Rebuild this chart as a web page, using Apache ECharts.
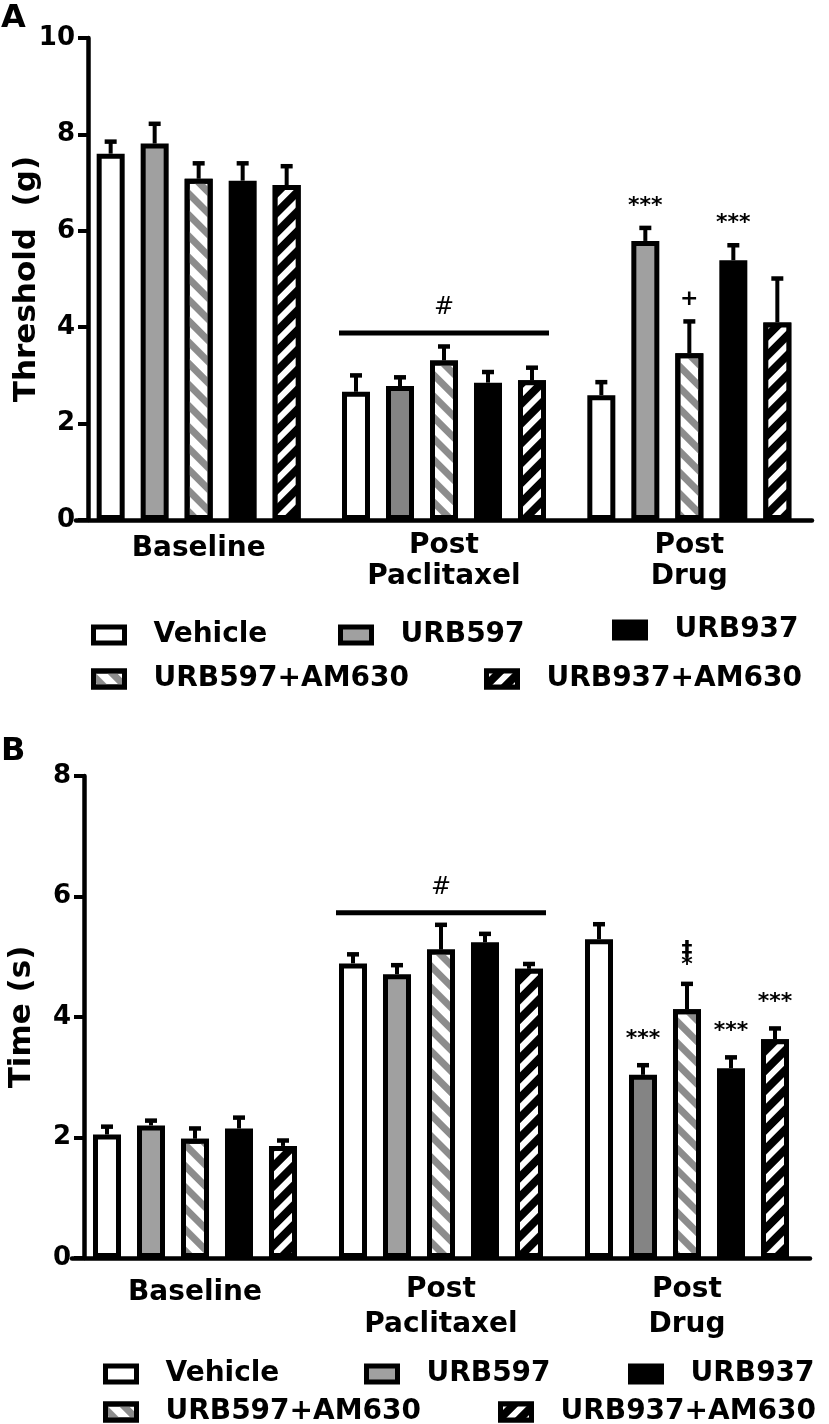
<!DOCTYPE html>
<html><head><meta charset="utf-8">
<script src="https://cdn.jsdelivr.net/npm/echarts@6/dist/echarts.min.js"></script>
<style>html,body{margin:0;padding:0;background:#fff}#c{width:829px;height:1424px}</style>
</head><body><div id="c"></div>
<script>
// ---------- DATA ----------
const categories = ['Baseline', 'Post\nPaclitaxel', 'Post\nDrug'];
const groupNames = ['Vehicle', 'URB597', 'URB597+AM630', 'URB937', 'URB937+AM630'];
const ticksA = [0, 2, 4, 6, 8, 10];
const ticksB = [0, 2, 4, 6, 8];

// Panel A: Threshold (g), mean per category
const A_vehicle   = [7.60, 2.66, 2.59];
const A_urb597    = [7.81, 2.78, 5.79];
const A_urb597am  = [7.08, 3.31, 3.46];
const A_urb937    = [7.04, 2.85, 5.39];
const A_urb937am  = [6.95, 2.90, 4.10];
// Panel A: SEM
const A_sem_vehicle  = [0.25, 0.34, 0.27];
const A_sem_urb597   = [0.41, 0.18, 0.27];
const A_sem_urb597am = [0.32, 0.29, 0.66];
const A_sem_urb937   = [0.36, 0.22, 0.31];
const A_sem_urb937am = [0.39, 0.26, 0.91];
// Panel A: significance marks
const A_mark_vehicle  = ['', '', ''];
const A_mark_urb597   = ['', '', '***'];
const A_mark_urb597am = ['', '', '+'];
const A_mark_urb937   = ['', '', '***'];
const A_mark_urb937am = ['', '', ''];
const A_hashLevel = 3.88;

// Panel B: Time (s), mean per category
const B_vehicle   = [2.05, 4.89, 5.29];
const B_urb597    = [2.20, 4.71, 3.04];
const B_urb597am  = [1.98, 5.12, 4.13];
const B_urb937    = [2.15, 5.24, 3.15];
const B_urb937am  = [1.86, 4.80, 3.63];
// Panel B: SEM
const B_sem_vehicle  = [0.13, 0.15, 0.25];
const B_sem_urb597   = [0.08, 0.15, 0.16];
const B_sem_urb597am = [0.17, 0.41, 0.42];
const B_sem_urb937   = [0.18, 0.14, 0.18];
const B_sem_urb937am = [0.09, 0.08, 0.18];
// Panel B: significance marks
const B_mark_vehicle  = ['', '', ''];
const B_mark_urb597   = ['', '', '***'];
const B_mark_urb597am = ['', '', '\u2021\n*'];
const B_mark_urb937   = ['', '', '***'];
const B_mark_urb937am = ['', '', '***'];
const B_hashLevel = 5.73;

// ---------- STYLE ----------
const FONT = '"DejaVu Sans"';
const BAR_W = 28, BAR_STEP = 44, CAP = 6;
const shadeA = ['#a0a0a0', '#848484', '#a0a0a0'];
const shadeB = ['#a0a0a0', '#a0a0a0', '#848484'];
const hatchGray = { color: '#8c8c8c', dashArrayX: [1, 0], dashArrayY: [7, 8], rotation: Math.PI / 4, symbolSize: 1 };
const hatchBlack = { color: '#ffffff', dashArrayX: [1, 0], dashArrayY: [6, 8], rotation: -Math.PI / 4, symbolSize: 1 };

function baseStyles(legendShade) {
  return [
    { color: '#ffffff' },
    { color: legendShade },
    { color: '#ffffff', decal: hatchGray },
    { color: '#000000' },
    { color: '#000000', decal: hatchBlack }
  ];
}

function buildPanel(idx, means, sems, marks, shades, legendShade, hashLevel, markGap) {
  const styles = baseStyles(legendShade);
  const series = [];
  means.forEach(function (vals, s) {
    series.push({
      type: 'bar', name: groupNames[s], xAxisIndex: idx, yAxisIndex: idx,
      barWidth: BAR_W, barGap: ((BAR_STEP - BAR_W) / BAR_W * 100).toFixed(2) + '%',
      itemStyle: Object.assign({ borderColor: '#000', borderWidth: 5 }, styles[s]),
      emphasis: { disabled: true },
      data: vals.map(function (v, c) {
        if (s === 1) return { value: v, itemStyle: { color: shades[c] } };
        return v;
      }),
      z: 2
    });
  });
  const errData = [];
  const markLookup = [];
  means.forEach(function (vals, s) {
    vals.forEach(function (v, c) {
      errData.push([c, s, v, sems[s][c]]);
      markLookup.push(marks[s][c]);
    });
  });
  series.push({
    type: 'custom', xAxisIndex: idx, yAxisIndex: idx, z: 5, silent: true,
    encode: { x: 0, y: 2 },
    data: errData,
    renderItem: function (params, api) {
      const c = api.value(0), s = api.value(1), m = api.value(2), e = api.value(3);
      const p0 = api.coord([c, m]);
      const p1 = api.coord([c, m + e]);
      const x = p0[0] + (s - 2) * BAR_STEP;
      const children = [
        { type: 'line', shape: { x1: x, y1: p0[1], x2: x, y2: p1[1] }, style: { stroke: '#000', lineWidth: 4 } },
        { type: 'line', shape: { x1: x - CAP, y1: p1[1], x2: x + CAP, y2: p1[1] }, style: { stroke: '#000', lineWidth: 4.5 } }
      ];
      const t = markLookup[params.dataIndex];
      if (t) {
        children.push({ type: 'text', style: {
          text: t, x: x, y: p1[1] - markGap, align: 'center', verticalAlign: 'middle',
          font: 'bold 22px ' + FONT, fill: '#000', lineHeight: 15 } });
      }
      return { type: 'group', children: children };
    }
  });
  series.push({
    type: 'custom', xAxisIndex: idx, yAxisIndex: idx, z: 5, silent: true,
    encode: { x: 0, y: 1 },
    data: [[1, hashLevel]],
    renderItem: function (params, api) {
      const p = api.coord([api.value(0), api.value(1)]);
      const half = 2 * BAR_STEP + BAR_W / 2 + 3;
      return { type: 'group', children: [
        { type: 'line', shape: { x1: p[0] - half, y1: p[1], x2: p[0] + half, y2: p[1] }, style: { stroke: '#000', lineWidth: 5 } },
        { type: 'text', style: { text: '#', x: p[0], y: p[1] - 25, align: 'center', verticalAlign: 'middle',
          font: 'normal 24px ' + FONT, fill: '#000' } }
      ] };
    }
  });
  return series;
}

const seriesA = buildPanel(0,
  [A_vehicle, A_urb597, A_urb597am, A_urb937, A_urb937am],
  [A_sem_vehicle, A_sem_urb597, A_sem_urb597am, A_sem_urb937, A_sem_urb937am],
  [A_mark_vehicle, A_mark_urb597, A_mark_urb597am, A_mark_urb937, A_mark_urb937am],
  shadeA, '#a0a0a0', A_hashLevel, 22);
const seriesB = buildPanel(1,
  [B_vehicle, B_urb597, B_urb597am, B_urb937, B_urb937am],
  [B_sem_vehicle, B_sem_urb597, B_sem_urb597am, B_sem_urb937, B_sem_urb937am],
  [B_mark_vehicle, B_mark_urb597, B_mark_urb597am, B_mark_urb937, B_mark_urb937am],
  shadeB, '#888888', B_hashLevel, 26);

function xAxisCfg(idx, margin, lineH) {
  return {
    type: 'category', gridIndex: idx, data: categories,
    axisTick: { show: false },
    axisLine: { show: true, lineStyle: { color: '#000', width: 4.5 } },
    axisLabel: {
      interval: 0, margin: margin, color: '#000', fontFamily: FONT, fontWeight: 'bold', fontSize: 28, lineHeight: lineH,
      formatter: function (v) { return v.indexOf('\n') < 0 ? '{s|' + v + '}' : v; },
      rich: { s: { padding: [7, 0, 0, 0], color: '#000', fontFamily: FONT, fontWeight: 'bold', fontSize: 28, lineHeight: lineH } }
    },
    splitLine: { show: false }
  };
}
function yAxisCfg(idx, ticks, name, nameGap) {
  return {
    type: 'value', gridIndex: idx, min: ticks[0], max: ticks[ticks.length - 1], interval: ticks[1] - ticks[0],
    offset: -12,
    axisLine: { show: true, lineStyle: { color: '#000', width: 4.5 } },
    axisTick: { show: true, length: 10, lineStyle: { color: '#000', width: 4 } },
    splitLine: { show: false },
    axisLabel: { margin: 13, color: '#000', fontFamily: FONT, fontWeight: 'bold', fontSize: 26 },
    name: name, nameLocation: 'middle', nameGap: nameGap, nameMoveOverlap: false,
    nameTextStyle: { color: '#000', fontFamily: FONT, fontWeight: 'bold', fontSize: 31 }
  };
}

// legend placement (layout only)
const legendLayoutA = [
  { name: 'Vehicle', left: 91, top: 621 },
  { name: 'URB597', left: 338, top: 621 },
  { name: 'URB937', left: 612, top: 616 },
  { name: 'URB597+AM630', left: 91, top: 665 },
  { name: 'URB937+AM630', left: 484, top: 665 }
];
const legendLayoutB = [
  { name: 'Vehicle', left: 103, top: 1360 },
  { name: 'URB597', left: 364, top: 1360 },
  { name: 'URB937', left: 628, top: 1360 },
  { name: 'URB597+AM630', left: 103, top: 1398 },
  { name: 'URB937+AM630', left: 498, top: 1398 }
];
function legendCfg(item) {
  return {
    data: [item.name], left: item.left, top: item.top, padding: 0,
    icon: 'rect', itemWidth: 31, itemHeight: 16, selectedMode: false,
    itemStyle: { borderColor: '#000', borderWidth: 5 },
    formatter: function (n) { return '{sp|}' + n; },
    textStyle: { color: '#000', fontFamily: FONT, fontWeight: 'bold', fontSize: 28,
      rich: { sp: { width: 24 } } }
  };
}

const chart = echarts.init(document.getElementById('c'), null, { renderer: 'canvas' });
const legends = legendLayoutA.map(legendCfg).concat(legendLayoutB.map(legendCfg));
chart.setOption({
  backgroundColor: '#fff',
  animation: false,
  grid: [
    { left: 76, top: 38, width: 736, height: 482, outerBoundsMode: 'none', containLabel: false },
    { left: 72, top: 776, width: 738, height: 482, outerBoundsMode: 'none', containLabel: false }
  ],
  xAxis: [xAxisCfg(0, 10, 31), xAxisCfg(1, 14, 35)],
  yAxis: [yAxisCfg(0, ticksA, 'Threshold  (g)', 46), yAxisCfg(1, ticksB, 'Time (s)', 47)],
  legend: legends,
  graphic: [
    { type: 'text', left: 1, top: 3, style: { text: 'A', font: 'bold 32px ' + FONT, fill: '#000' } },
    { type: 'text', left: 1, top: 736, style: { text: 'B', font: 'bold 32px ' + FONT, fill: '#000' } }
  ],
  series: seriesA.concat(seriesB)
});
</script>
</body></html>
